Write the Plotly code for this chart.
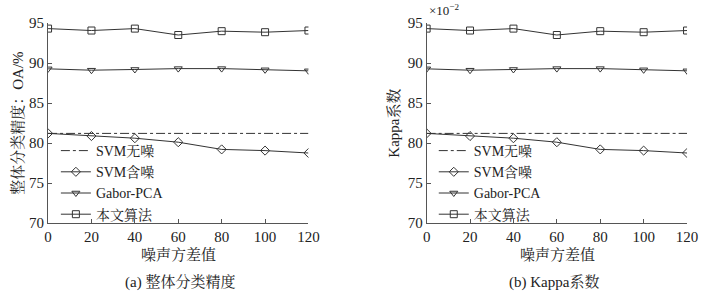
import plotly.graph_objects as go

noise = [0, 20, 40, 60, 80, 100, 120]
svm_clean = [81.2, 81.2, 81.2, 81.2, 81.2, 81.2, 81.2]
svm_noisy = [81.2, 80.87, 80.6, 80.1, 79.2, 79.05, 78.75]
gabor_pca = [89.27, 89.1, 89.19, 89.3, 89.3, 89.15, 89.02]
ours = [94.3, 94.06, 94.3, 93.5, 93.98, 93.85, 94.06]
x_ticks = [0, 20, 40, 60, 80, 100, 120]
y_ticks = [70, 75, 80, 85, 90, 95]

series = [
    ("SVM无噪", svm_clean, "dashdot", None),
    ("SVM含噪", svm_noisy, "solid", "diamond-open"),
    ("Gabor-PCA", gabor_pca, "solid", "triangle-down-open"),
    ("本文算法", ours, "solid", "square-open"),
]

FONT = "Liberation Serif, Times New Roman, Noto Serif CJK SC, Noto Sans CJK SC, serif"
LC = "#333333"
W, H, T, B = 714, 295, 23, 72
PH = H - T - B


def px(xp):
    return xp / W


def py(yp):
    return (H - B - yp) / PH


fig = go.Figure()
for panel, (xa, ya, lg) in enumerate([("x", "y", "legend"), ("x2", "y2", "legend2")]):
    for name, vals, dash, sym in series:
        fig.add_trace(go.Scatter(
            x=noise, y=vals, name=name, xaxis=xa, yaxis=ya, legend=lg,
            mode="lines" if sym is None else "lines+markers",
            line=dict(color=LC, width=1, dash=dash),
            marker=dict(symbol=sym or "circle", size=7, color=LC,
                        line=dict(color=LC, width=1)),
        ))

axis_common = dict(
    showline=True, linecolor="#555555", linewidth=1,
    ticks="inside", ticklen=4, tickcolor="#555555",
    showgrid=False, zeroline=False,
    tickfont=dict(family=FONT, size=15, color="#222222"),
)

leg_common = dict(xanchor="left", yanchor="top", bgcolor="rgba(0,0,0,0)",
                  font=dict(family=FONT, size=14, color="#222222"),
                  tracegroupgap=0, itemwidth=30)

fig.update_layout(
    width=W, height=H,
    margin=dict(l=0, r=0, t=T, b=B),
    paper_bgcolor="white", plot_bgcolor="white",
    font=dict(family=FONT, color="#222222"),
    xaxis=dict(domain=[45 / W, 311 / W], range=[0, 120], tickvals=x_ticks, anchor="y", **axis_common),
    yaxis=dict(domain=[0, 1], range=[70, 95], tickvals=y_ticks, anchor="x", **axis_common),
    xaxis2=dict(domain=[431.7 / W, 697.7 / W], range=[0, 120], tickvals=x_ticks, anchor="y2", **axis_common),
    yaxis2=dict(domain=[0, 1], range=[70, 95], tickvals=y_ticks, anchor="x2", **axis_common),
    legend=dict(x=px(53), y=py(135), **leg_common),
    legend2=dict(x=px(439), y=py(135), **leg_common),
    showlegend=True,
)

ann_font = dict(family=FONT, size=15, color="#222222")
annots = [
    dict(text="噪声方差值", x=178, y=255, angle=0),
    dict(text="噪声方差值", x=565, y=255, angle=0),
    dict(text="(a) 整体分类精度", x=180, y=282, angle=0),
    dict(text="(b) Kappa系数", x=562, y=282, angle=0),
    dict(text="整体分类精度：OA/%", x=13, y=123, angle=-90),
    dict(text="Kappa系数", x=398, y=123, angle=-90),
]
for a in annots:
    fig.add_annotation(text=a["text"], x=px(a["x"]), y=py(a["y"]),
                       xref="paper", yref="paper", textangle=a["angle"],
                       showarrow=False, font=ann_font, xanchor="center", yanchor="middle")
fig.add_annotation(text="×10<sup>−2</sup>", x=px(432), y=py(10), xref="paper", yref="paper",
                   showarrow=False, font=dict(family=FONT, size=13, color="#222222"),
                   xanchor="left", yanchor="middle")

fig.write_html("out.html", config={"displayModeBar": False},
               post_script="document.body.style.margin='0';document.body.style.overflow='hidden';")
